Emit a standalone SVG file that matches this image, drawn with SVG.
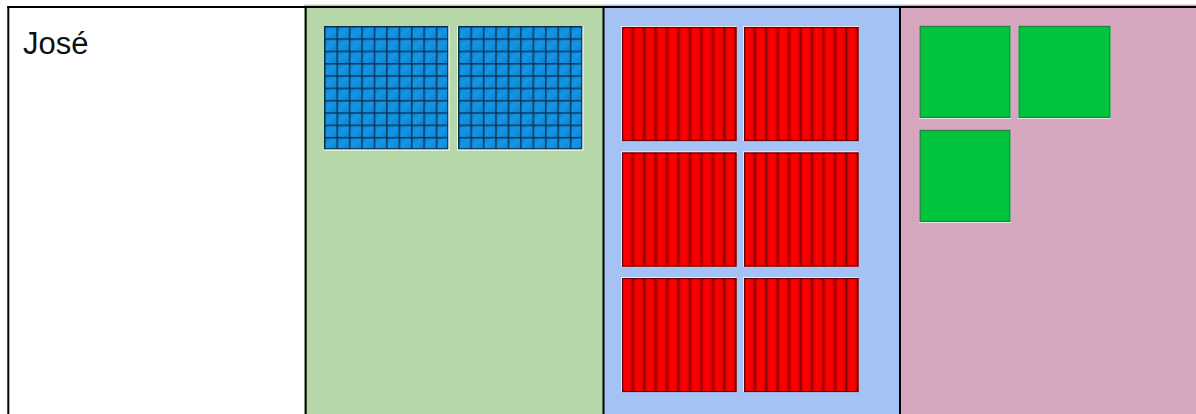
<svg xmlns="http://www.w3.org/2000/svg" width="1196" height="414" viewBox="0 0 1196 414">
  <defs>
    <linearGradient id="cellGrad" x1="0" y1="0" x2="1" y2="1">
      <stop offset="0" stop-color="#0d82cf"/>
      <stop offset="0.5" stop-color="#1595e6"/>
      <stop offset="1" stop-color="#0d82cf"/>
    </linearGradient>
    <pattern id="blueGrid" patternUnits="userSpaceOnUse" x="0" y="0" width="12.42" height="12.32">
      <rect width="12.42" height="12.32" fill="url(#cellGrad)"/>
      <rect x="0" y="0" width="12.42" height="1.6" fill="#0a3050" opacity="0.85"/>
      <rect x="0" y="0" width="1.6" height="12.32" fill="#0a3050" opacity="0.85"/>
    </pattern>
    <linearGradient id="barGrad" x1="0" y1="0" x2="1" y2="0">
      <stop offset="0" stop-color="#5e0000"/>
      <stop offset="0.14" stop-color="#d80000"/>
      <stop offset="0.35" stop-color="#ff0000"/>
      <stop offset="0.8" stop-color="#f40000"/>
      <stop offset="1" stop-color="#b00000"/>
    </linearGradient>
    <pattern id="redBars" patternUnits="userSpaceOnUse" x="0" y="0" width="11.45" height="200">
      <rect width="11.45" height="200" fill="url(#barGrad)"/>
    </pattern>
    <style>
      .frame { stroke: #000; stroke-width: 2; fill: none; }
      .tileEdge { fill: #ffffff; }
      .blueOut { fill: none; stroke: #0a3050; stroke-width: 1; }
      .redOut { fill: none; stroke: #6a0000; stroke-width: 1.2; }
      .greenTile { fill: #00c43b; stroke: #2b7a45; stroke-width: 1.3; }
      .label { font-family: "Liberation Sans", Arial, sans-serif; font-size: 31px; fill: #111; }
    </style>
  </defs>

  <rect width="1196" height="414" fill="#ffffff"/>

  <g id="col-name">
    <rect x="8" y="7" width="297" height="407" fill="#ffffff"/>
    <text class="label" x="23" y="54">José</text>
  </g>

  <g id="col-hundreds">
    <rect x="304" y="4.5" width="299" height="409.5" fill="#b6d7a8"/>
    <g transform="translate(324,26)">
      <rect x="0" y="0" width="125.5" height="124.5" class="tileEdge"/>
      <rect x="0" y="0" width="124.2" height="123.2" fill="url(#blueGrid)"/>
      <rect x="0.5" y="0.5" width="123.2" height="122.2" class="blueOut"/>
    </g>
    <g transform="translate(458,26)">
      <rect x="-0.8" y="0" width="126.3" height="124.5" class="tileEdge"/>
      <rect x="0" y="0" width="124.2" height="123.2" fill="url(#blueGrid)"/>
      <rect x="0.5" y="0.5" width="123.2" height="122.2" class="blueOut"/>
    </g>
  </g>

  <g id="col-tens">
    <rect x="603" y="4.5" width="297" height="409.5" fill="#a4c2f4"/>
    <g transform="translate(621,26)">
      <rect width="115.5" height="115" class="tileEdge"/>
      <rect x="1" y="1" width="114.5" height="114" fill="url(#redBars)"/>
      <rect x="1.5" y="1.5" width="113.5" height="113" class="redOut"/>
    </g>
    <g transform="translate(743,26)">
      <rect width="115.5" height="115" class="tileEdge"/>
      <rect x="1" y="1" width="114.5" height="114" fill="url(#redBars)"/>
      <rect x="1.5" y="1.5" width="113.5" height="113" class="redOut"/>
    </g>
    <g transform="translate(621,151.5)">
      <rect width="115.5" height="115" class="tileEdge"/>
      <rect x="1" y="1" width="114.5" height="114" fill="url(#redBars)"/>
      <rect x="1.5" y="1.5" width="113.5" height="113" class="redOut"/>
    </g>
    <g transform="translate(743,151.5)">
      <rect width="115.5" height="115" class="tileEdge"/>
      <rect x="1" y="1" width="114.5" height="114" fill="url(#redBars)"/>
      <rect x="1.5" y="1.5" width="113.5" height="113" class="redOut"/>
    </g>
    <g transform="translate(621,277)">
      <rect width="115.5" height="115" class="tileEdge"/>
      <rect x="1" y="1" width="114.5" height="114" fill="url(#redBars)"/>
      <rect x="1.5" y="1.5" width="113.5" height="113" class="redOut"/>
    </g>
    <g transform="translate(743,277)">
      <rect width="115.5" height="115" class="tileEdge"/>
      <rect x="1" y="1" width="114.5" height="114" fill="url(#redBars)"/>
      <rect x="1.5" y="1.5" width="113.5" height="113" class="redOut"/>
    </g>
  </g>

  <g id="col-ones">
    <rect x="900" y="4.5" width="296" height="409.5" fill="#d5a6bd"/>
    <rect x="919" y="26" width="92" height="93" class="tileEdge"/>
    <rect x="920" y="26.5" width="90" height="91" class="greenTile"/>
    <rect x="1018" y="26" width="93" height="93" class="tileEdge"/>
    <rect x="1019" y="26.5" width="91" height="91" class="greenTile"/>
    <rect x="919" y="130" width="92" height="93" class="tileEdge"/>
    <rect x="920" y="130.5" width="90" height="91" class="greenTile"/>
  </g>

  <g id="table-lines">
    <line class="frame" x1="7.3" y1="7" x2="1196" y2="7"/>
    <line class="frame" x1="8.3" y1="6" x2="8.3" y2="414"/>
    <line class="frame" x1="305.7" y1="6" x2="305.7" y2="414"/>
    <line class="frame" x1="603.5" y1="6" x2="603.5" y2="414"/>
    <line class="frame" x1="900" y1="6" x2="900" y2="414"/>
  </g>
</svg>
